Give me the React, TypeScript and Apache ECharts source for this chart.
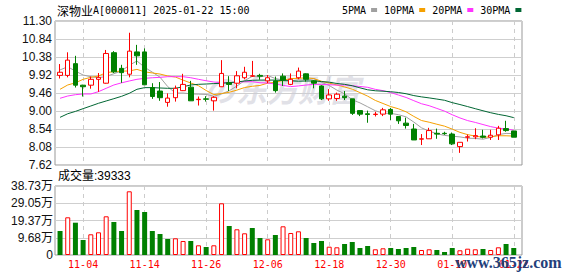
import React, { useEffect, useRef } from "react";
import * as echarts from "echarts";

const dates = [
  "10-30", "10-31", "11-01", "11-04", "11-05", "11-06", "11-07", "11-08", "11-11", "11-12",
  "11-13", "11-14", "11-15", "11-18", "11-19", "11-20", "11-21", "11-22", "11-25", "11-26",
  "11-27", "11-28", "11-29", "12-02", "12-03", "12-04", "12-05", "12-06", "12-09", "12-10",
  "12-11", "12-12", "12-13", "12-16", "12-17", "12-18", "12-19", "12-20", "12-23", "12-24",
  "12-25", "12-26", "12-27", "12-30", "12-31", "01-02", "01-03", "01-06", "01-07", "01-08",
  "01-09", "01-10", "01-13", "01-14", "01-15", "01-16", "01-17", "01-20", "01-21", "01-22",
];

const opens = [
  9.91, 9.91, 10.21, 9.66, 9.66, 9.81, 9.71, 10.49, 10.09, 9.94,
  10.51, 10.51, 9.6, 9.51, 9.22, 9.34, 9.52, 9.61, 9.29, 9.31,
  9.26, 9.62, 9.72, 9.71, 9.85, 9.89, 9.91, 9.77, 9.77, 9.89,
  9.68, 9.85, 9.95, 9.77, 9.64, 9.31, 9.32, 9.38, 9.31, 9.01,
  8.93, 8.91, 8.92, 9.04, 8.86, 8.69, 8.54, 8.28, 8.29, 8.43,
  8.43, 8.41, 8.09, 8.33, 8.34, 8.36, 8.33, 8.39, 8.55, 8.49,
];
const closes = [
  9.99, 10.3, 9.66, 9.62, 9.81, 9.86, 10.47, 10.0, 9.98, 10.53,
  10.41, 9.67, 9.37, 9.34, 9.33, 9.58, 9.68, 9.26, 9.3, 9.3,
  9.35, 9.96, 9.68, 9.9, 9.99, 9.9, 9.89, 9.85, 9.52, 9.79,
  9.81, 10.02, 9.81, 9.71, 9.31, 9.41, 9.43, 9.34, 8.94, 8.92,
  8.91, 8.92, 9.03, 8.92, 8.75, 8.63, 8.26, 8.29, 8.5, 8.41,
  8.42, 8.16, 8.2, 8.34, 8.37, 8.33, 8.38, 8.56, 8.5, 8.33,
];
const lows = [
  9.83, 9.86, 9.6, 9.37, 9.57, 9.49, 9.7, 9.97, 9.72, 9.86,
  10.18, 9.67, 9.31, 9.26, 9.11, 9.24, 9.51, 9.26, 9.14, 9.24,
  9.01, 9.62, 9.51, 9.58, 9.81, 9.87, 9.8, 9.71, 9.47, 9.64,
  9.66, 9.81, 9.75, 9.58, 9.28, 9.26, 9.26, 9.28, 8.9, 8.87,
  8.7, 8.86, 8.87, 8.77, 8.67, 8.55, 8.26, 8.13, 8.29, 8.29,
  8.39, 8.13, 7.93, 8.22, 8.28, 8.3, 8.26, 8.26, 8.47, 8.33,
];
const highs = [
  10.2, 10.5, 10.41, 9.67, 9.88, 9.97, 10.56, 10.53, 10.18, 11.0,
  10.69, 10.6, 9.71, 9.74, 9.45, 9.65, 9.95, 9.77, 9.37, 9.38,
  9.38, 10.3, 9.89, 10.02, 10.13, 10.28, 9.95, 9.92, 9.88, 9.96,
  9.96, 10.11, 9.96, 9.79, 9.66, 9.56, 9.47, 9.51, 9.31, 9.01,
  9.01, 8.98, 9.08, 9.08, 8.87, 8.83, 8.67, 8.41, 8.57, 8.55,
  8.47, 8.45, 8.2, 8.4, 8.56, 8.52, 8.52, 8.62, 8.75, 8.49,
];

const ma5 = [
  10.05, 10.13, 10.02, 9.92, 9.876, 9.85, 9.884, 9.952, 10.024, 10.168,
  10.278, 10.118, 9.992, 9.864, 9.624, 9.458, 9.46, 9.438, 9.43, 9.424,
  9.378, 9.434, 9.518, 9.638, 9.776, 9.886, 9.872, 9.906, 9.83, 9.79,
  9.772, 9.798, 9.79, 9.828, 9.732, 9.652, 9.534, 9.44, 9.286, 9.208,
  9.108, 9.006, 8.944, 8.94, 8.906, 8.85, 8.718, 8.57, 8.486, 8.418,
  8.376, 8.356, 8.338, 8.306, 8.298, 8.28, 8.324, 8.396, 8.428, 8.42,
];
const ma10 = [
  9.555, 9.665, 9.72, 9.81, 9.86, 9.894, 9.98, 10.006, 10.02, 10.022,
  10.064, 10.001, 9.972, 9.944, 9.896, 9.868, 9.789, 9.715, 9.647, 9.524,
  9.418, 9.447, 9.478, 9.534, 9.6, 9.632, 9.653, 9.712, 9.734, 9.783,
  9.829, 9.835, 9.848, 9.829, 9.761, 9.712, 9.666, 9.615, 9.557, 9.47,
  9.38, 9.27, 9.192, 9.113, 9.057, 8.979, 8.862, 8.757, 8.713, 8.662,
  8.613, 8.537, 8.454, 8.396, 8.358, 8.328, 8.34, 8.367, 8.367, 8.359,
];
const ma20 = [
  9.325, 9.383, 9.417, 9.435, 9.435, 9.494, 9.58, 9.665, 9.72, 9.767,
  9.81, 9.835, 9.85, 9.86, 9.877, 9.877, 9.877, 9.85, 9.81, 9.773,
  9.741, 9.724, 9.725, 9.739, 9.748, 9.75, 9.721, 9.714, 9.69, 9.654,
  9.624, 9.641, 9.663, 9.682, 9.681, 9.672, 9.66, 9.664, 9.646, 9.627,
  9.605, 9.553, 9.52, 9.471, 9.409, 9.346, 9.264, 9.186, 9.135, 9.066,
  8.997, 8.904, 8.823, 8.755, 8.708, 8.654, 8.601, 8.562, 8.54, 8.511,
];
const ma30 = [
  8.838, 8.93, 8.99, 9.06, 9.128, 9.197, 9.256, 9.315, 9.375, 9.452,
  9.555, 9.597, 9.597, 9.588, 9.58, 9.58, 9.62, 9.665, 9.682, 9.69,
  9.7, 9.708, 9.725, 9.74, 9.767, 9.784, 9.79, 9.79, 9.79, 9.776,
  9.77, 9.761, 9.766, 9.769, 9.752, 9.737, 9.703, 9.681, 9.646, 9.592,
  9.542, 9.517, 9.506, 9.492, 9.473, 9.441, 9.394, 9.361, 9.335, 9.305,
  9.274, 9.214, 9.165, 9.113, 9.059, 9.006, 8.956, 8.913, 8.879, 8.83,
];

// volume in 万 (10k shares)
const volumes = [
  13.47, 21.16, 18.13, 8.42, 11.62, 12.74, 21.72, 18.52, 13.47, 35.75,
  25.26, 24.14, 13.47, 11.79, 8.98, 9.37, 7.86, 7.86, 5.44, 4.49,
  5.44, 29.02, 16.28, 14.43, 12.18, 15.15, 9.54, 8.81, 11.23, 16.11,
  12.35, 13.3, 9.54, 6.74, 7.86, 4.66, 4.32, 6.17, 7.3, 3.93,
  5.05, 3.2, 3.76, 3.93, 3.37, 3.93, 4.49, 2.81, 3.2, 2.81,
  1.68, 3.93, 2.64, 3.54, 3.2, 3.37, 2.81, 4.32, 6.17, 3.93,
];
// 1 = red (up), 0 = green (down)
const volumeUp = [
  0, 1, 0, 0, 1, 1, 1, 0, 0, 1,
  0, 0, 0, 0, 0, 1, 1, 0, 1, 0,
  1, 1, 0, 1, 1, 0, 0, 1, 0, 1,
  1, 1, 0, 0, 0, 1, 1, 0, 0, 0,
  0, 1, 1, 0, 0, 0, 0, 1, 1, 0,
  0, 0, 1, 1, 1, 0, 1, 1, 0, 0,
];

const priceTicks = ["7.62", "8.08", "8.54", "9.00", "9.46", "9.92", "10.38", "10.84", "11.30"];
const volumeTicks = ["0", "9.68万", "19.37万", "29.05万", "38.73万"];
const labelDates = ["11-04", "11-14", "11-26", "12-06", "12-18", "12-30", "01-10", "01-22"];
const maNames = ["5PMA", "10PMA", "20PMA", "30PMA"];
const maColors = ["#a0a0a0", "#f5a000", "#ff33ff", "#006633"];

const RED = "#ff0000";
const GREEN = "#008000";
const MONO = "DejaVu Sans Mono";

export default function App() {
  const ref = useRef<HTMLDivElement>(null);

  useEffect(() => {
    if (!ref.current) return;
    const chart = echarts.init(ref.current, null, { renderer: "svg" });
    const showAt = (_i: number, v: string) => labelDates.indexOf(v) >= 0;
    const dashed = {
      show: true,
      alignWithLabel: true,
      interval: showAt,
      lineStyle: { color: "#cccccc", type: [4, 4] as any, width: 1 },
    };
    const maSeries = [ma5, ma10, ma20, ma30].map((d, k) => ({
      type: "line",
      name: maNames[k],
      xAxisIndex: 1,
      yAxisIndex: 1,
      data: d,
      symbol: "none",
      color: maColors[k],
      lineStyle: { width: 1, color: maColors[k] },
      z: 3,
    }));

    chart.setOption({
      animation: false,
      backgroundColor: "#ffffff",
      legend: {
        data: maNames,
        left: 342,
        top: 5,
        align: "right",
        icon: "rect",
        itemWidth: 6,
        itemHeight: 4,
        itemGap: 7,
        padding: 0,
        selectedMode: false,
        textStyle: { fontFamily: MONO, fontSize: 10, color: "#000" },
      },
      grid: [
        { left: 55, top: 21, width: 467, height: 144, show: true, borderColor: "#999999", borderWidth: 1 },
        { left: 56.2, top: 21, width: 461.4, height: 144 },
        { left: 55, top: 186, width: 467, height: 69, show: true, borderColor: "#999999", borderWidth: 1 },
        { left: 56.2, top: 186, width: 461.4, height: 69 },
      ],
      xAxis: [
        { gridIndex: 0, type: "value", min: 0, max: 1, show: false },
        {
          gridIndex: 1,
          type: "category",
          data: dates,
          boundaryGap: true,
          axisLine: { show: false },
          axisTick: { show: false },
          axisLabel: { show: false },
          splitLine: dashed,
        },
        { gridIndex: 2, type: "value", min: 0, max: 1, show: false },
        {
          gridIndex: 3,
          type: "category",
          data: dates,
          boundaryGap: true,
          axisLine: { show: false },
          axisTick: { show: false },
          axisLabel: {
            show: true,
            interval: showAt,
            color: RED,
            fontFamily: MONO,
            fontSize: 10,
            margin: 4,
            hideOverlap: false,
          },
          splitLine: dashed,
        },
      ],
      yAxis: [
        {
          gridIndex: 0,
          type: "value",
          min: 7.62,
          max: 11.3,
          interval: 0.46,
          axisLine: { show: false },
          axisTick: { show: false },
          axisLabel: {
            formatter: (_v: number, i: number) => priceTicks[i],
            color: "#111",
            fontFamily: "Liberation Sans",
            fontSize: 12,
            margin: 3,
          },
          splitLine: { lineStyle: { color: "#cfcfcf", width: 1 } },
        },
        { gridIndex: 1, type: "value", min: 7.62, max: 11.3, show: false },
        {
          gridIndex: 2,
          type: "value",
          min: 0,
          max: 38.73,
          interval: 9.6825,
          axisLine: { show: false },
          axisTick: { show: false },
          axisLabel: {
            formatter: (_v: number, i: number) => volumeTicks[i],
            color: "#111",
            fontFamily: "Liberation Sans, Noto Sans CJK SC",
            fontSize: 12,
            margin: 2,
          },
          splitLine: { lineStyle: { color: "#cfcfcf", width: 1 } },
        },
        { gridIndex: 3, type: "value", min: 0, max: 38.73, show: false },
      ],
      graphic: [
        {
          type: "text",
          left: 57,
          top: 4,
          z: 10,
          style: {
            text: "{c|深物业}{a|A[000011] 2025-01-22 15:00}",
            rich: {
              c: { fontFamily: "Noto Sans CJK SC", fontSize: 12, fill: "#000" },
              a: { fontFamily: MONO, fontSize: 10, fill: "#000" },
            },
          },
        },
        {
          type: "text",
          left: 58,
          top: 170,
          z: 10,
          style: {
            text: "成交量:39333",
            fontFamily: "Liberation Sans, Noto Sans CJK SC",
            fontSize: 12,
            fill: "#000",
          },
        },
        {
          type: "text",
          left: 236,
          top: 73,
          z: 1,
          style: {
            text: "东方财富",
            fontFamily: "Noto Sans CJK SC",
            fontSize: 31,
            fontWeight: "bold",
            fontStyle: "italic",
            fill: "rgba(205,205,215,0.6)",
          },
        },
        {
          type: "text",
          left: 204,
          top: 73,
          z: 1,
          style: {
            text: "の",
            fontFamily: "Noto Sans CJK SC",
            fontSize: 31,
            fontWeight: "bold",
            fontStyle: "italic",
            fill: "rgba(205,205,215,0.6)",
          },
        },
        {
          type: "text",
          left: 455,
          top: 254,
          z: 100,
          style: {
            text: "www.365jz.com",
            fontFamily: "Liberation Serif",
            fontSize: 16,
            fontWeight: "bold",
            fill: "#23407a",
          },
        },
      ],
      series: [
        {
          type: "candlestick",
          xAxisIndex: 1,
          yAxisIndex: 1,
          barWidth: 5,
          data: dates.map((_, i) => [opens[i], closes[i], lows[i], highs[i]]),
          itemStyle: {
            color: "#ffffff",
            color0: GREEN,
            borderColor: RED,
            borderColor0: GREEN,
            borderWidth: 1,
          },
          z: 4,
        },
        ...maSeries,
        {
          type: "bar",
          xAxisIndex: 3,
          yAxisIndex: 3,
          barWidth: 5,
          data: volumes.map((v, i) => ({
            value: v,
            itemStyle: volumeUp[i]
              ? { color: "#ffffff", borderColor: RED, borderWidth: 1 }
              : { color: GREEN, borderWidth: 0 },
          })),
          z: 4,
        },
      ],
    });
    return () => chart.dispose();
  }, []);

  return (
    <div
      ref={ref}
      style={{ position: "absolute", left: 0, top: 0, width: 578, height: 276 }}
    />
  );
}
